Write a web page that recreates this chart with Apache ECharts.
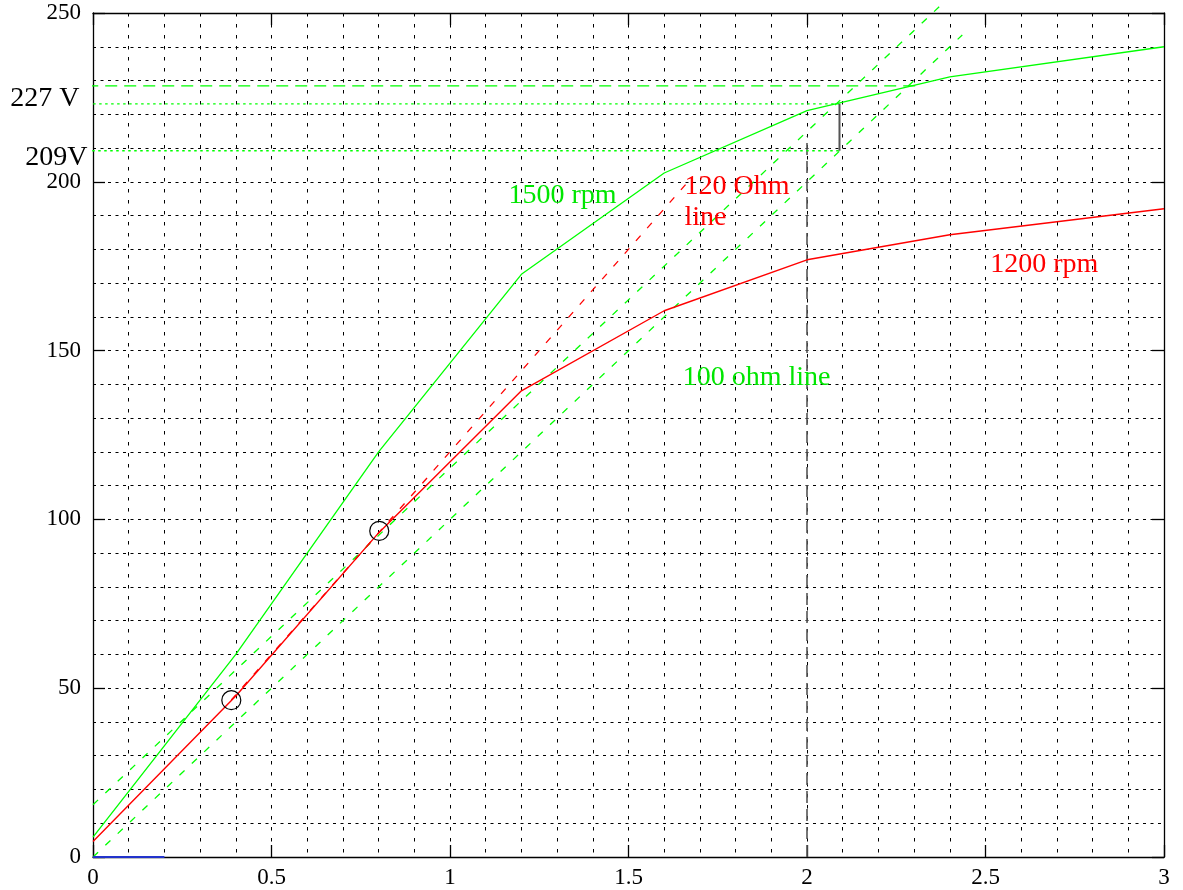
<!DOCTYPE html>
<html>
<head>
<meta charset="utf-8">
<script src="https://cdn.jsdelivr.net/npm/echarts@6/dist/echarts.min.js"></script>
<style>
html,body{margin:0;padding:0;background:#fff;}
#chart{width:1183px;height:890px;}
</style>
</head>
<body>
<div id="chart"></div>
<script>
// ---- data ----
const xPoints = [0, 0.4, 0.8, 1.2, 1.6, 2.0, 2.4, 3.0];
const rpm1500 = [5.9, 60, 120, 172.6, 202.6, 221.1, 231.1, 240.0];
const rpm1200 = [4.6, 47.7, 96, 138.1, 161.8, 176.9, 184.3, 192.0];
const ohm120Line = [[0.3874, 46.5], [1.66, 199.2]];
const ohm100LineUpper = [[0, 15.5], [2.38, 252.8]];
const ohm100LineLower = [[0, 0], [2.435, 243.5]];
const level228 = [[-0.019, 228.4], [2.307, 228.4]];
const level223 = [[-0.05, 223.1], [2.091, 223.1]];
const level209 = [[-0.019, 209.2], [2.091, 209.2]];
const dropLine = [[2.091, 209.2], [2.091, 223.1]];
const markerX2 = [[2.0, 0], [2.0, 213.4]];
const blueSeg = [[0, 0], [0.2, 0]];
const circlePts = [[0.3874, 46.44], [0.8018, 96.6]];
const xTickLabels = [0, 0.5, 1, 1.5, 2, 2.5, 3];
const yTickLabels = [0, 50, 100, 150, 200, 250];
const annotations = [
  {pos: [1.164, 196.0], text: '1500 rpm', color: '#00e600'},
  {pos: [1.657, 194.0], text: '120 Ohm\nline', color: '#ff0000'},
  {pos: [2.513, 175.5], text: '1200 rpm', color: '#ff0000'},
  {pos: [1.652, 142.0], text: '100 ohm line', color: '#00e600'},
  {pos: [-0.2316, 224.5], text: '227 V', color: '#000000'},
  {pos: [-0.1896, 207.3], text: '209V', color: '#000000'}
];

// ---- chart ----
const GREEN = '#00ff00', RED = '#ff0000';
const zip = (xs, ys) => xs.map((x, i) => [x, ys[i]]);
const font = 'Liberation Serif, Times New Roman, serif';
const gridLineH = {show: true, lineStyle: {color: '#000', width: 1, type: [3, 4.5]}};
const gridLineV = {show: true, lineStyle: {color: '#000', width: 1, type: [3.5, 7.5]}};

function lineSeries(data, color, width, type, z) {
  return {
    type: 'line', data: data, showSymbol: false, symbol: 'none', clip: false,
    silent: true, animation: false, z: z || 3,
    lineStyle: {color: color, width: width, type: type}
  };
}

const chart = echarts.init(document.getElementById('chart'), null, {renderer: 'canvas'});
chart.setOption({
  animation: false,
  backgroundColor: '#fff',
  grid: {left: 93, right: 19, top: 13, bottom: 33, show: false},
  xAxis: [{
    type: 'value', min: 0, max: 3, interval: 0.5, position: 'bottom',
    axisLine: {show: true, onZero: false, lineStyle: {color: '#000', width: 1.3}},
    axisTick: {show: true, inside: true, length: 12, lineStyle: {color: '#000', width: 1.3}},
    axisLabel: {show: true, margin: 9, color: '#000', fontSize: 23, fontFamily: font,
      formatter: v => (xTickLabels.indexOf(v) >= 0 ? String(v) : '')},
    splitLine: gridLineV,
    minorTick: {show: false, splitNumber: 5},
    minorSplitLine: gridLineV
  }, {
    type: 'value', min: 0, max: 3, interval: 0.5, position: 'top',
    axisLine: {show: true, onZero: false, lineStyle: {color: '#000', width: 1.3}},
    axisTick: {show: true, inside: true, length: 12, lineStyle: {color: '#000', width: 1.3}},
    axisLabel: {show: false}, splitLine: {show: false}
  }],
  yAxis: [{
    type: 'value', min: 0, max: 250, interval: 50, position: 'left',
    axisLine: {show: true, onZero: false, lineStyle: {color: '#000', width: 1.3}},
    axisTick: {show: true, inside: true, length: 12, lineStyle: {color: '#000', width: 1.3}},
    axisLabel: {show: true, margin: 12, color: '#000', fontSize: 23, fontFamily: font,
      formatter: v => (yTickLabels.indexOf(v) >= 0 ? String(v) : '')},
    splitLine: gridLineH,
    minorTick: {show: false, splitNumber: 5},
    minorSplitLine: gridLineH
  }, {
    type: 'value', min: 0, max: 250, interval: 50, position: 'right',
    axisLine: {show: true, onZero: false, lineStyle: {color: '#000', width: 1.3}},
    axisTick: {show: true, inside: true, length: 12, lineStyle: {color: '#000', width: 1.3}},
    axisLabel: {show: false}, splitLine: {show: false}
  }],
  series: [
    lineSeries(markerX2, '#555', 1.6, [12, 6], 2),
    lineSeries(level228, GREEN, 1.3, [12, 7], 3),
    lineSeries(level223, GREEN, 1.3, [2.5, 3.5], 3),
    lineSeries(level209, GREEN, 1.3, [2.5, 3.5], 3),
    lineSeries(dropLine, '#555', 2, 'solid', 3),
    lineSeries(ohm100LineUpper, GREEN, 1.3, [7, 10], 3),
    lineSeries(ohm100LineLower, GREEN, 1.3, [7, 10], 3),
    lineSeries(ohm120Line, RED, 1.3, [7, 10], 3),
    lineSeries(zip(xPoints, rpm1500), GREEN, 1.3, 'solid', 4),
    lineSeries(zip(xPoints, rpm1200), RED, 1.4, 'solid', 4),
    lineSeries(blueSeg, '#2233cc', 2.2, 'solid', 5),
    {
      type: 'scatter', data: circlePts, symbol: 'circle', symbolSize: 19, silent: true, z: 6,
      itemStyle: {color: 'rgba(0,0,0,0)', borderColor: '#000', borderWidth: 1.2, opacity: 1}
    },
    {
      type: 'scatter', symbolSize: 0, silent: true, clip: false, z: 7,
      itemStyle: {opacity: 1},
      data: annotations.map(a => ({
        value: a.pos,
        itemStyle: {opacity: 1},
        label: {show: true, position: 'inside', align: 'left', verticalAlign: 'middle',
          formatter: a.text, color: a.color, opacity: 1, fontSize: 28, lineHeight: 31, fontFamily: font,
          textBorderWidth: 0, textBorderColor: 'transparent', textShadowBlur: 0}
      }))
    }
  ]
});
</script>
</body>
</html>
